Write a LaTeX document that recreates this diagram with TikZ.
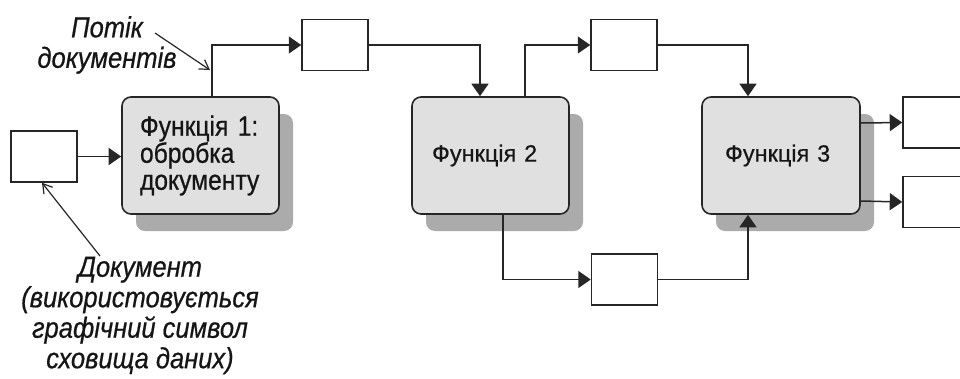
\documentclass[tikz,border=0pt]{standalone}
\usepackage{fontspec}
\setmainfont{Liberation Sans}[FakeBold=0.5]
\newfontfamily\narrowfont[FakeStretch=0.88,FakeBold=0.6]{Liberation Sans}
\usetikzlibrary{arrows.meta,shadows}
\definecolor{linecol}{HTML}{262626}
\definecolor{boxfill}{HTML}{E0E0E0}
\definecolor{shadowcol}{HTML}{ABABAB}
\definecolor{txtcol}{HTML}{151515}
\begin{document}
\begin{tikzpicture}[x=1pt,y=-1pt,
  func/.style={draw=linecol, line width=1.6pt, fill=boxfill, rounded corners=9pt,
    minimum width=157pt, minimum height=117pt, inner xsep=18pt, inner ysep=0pt,
    text=txtcol, align=left,
    drop shadow={shadow xshift=14pt, shadow yshift=-17pt, fill=shadowcol, opacity=1}},
  docbox/.style={draw=linecol, line width=1.5pt, fill=white,
    minimum width=66pt, minimum height=51pt, inner sep=0pt},
  flow/.style={draw=linecol, line width=1.5pt, -{Triangle[length=12.5pt,width=17pt]}},
  note/.style={draw=linecol, line width=1.2pt, -{Straight Barb[length=9pt,width=11pt]}},
  lbl/.style={text=txtcol, align=center, inner sep=0pt,
    font=\narrowfont\itshape\fontsize{29}{30.5}\selectfont}
]
\useasboundingbox (0,0) rectangle (960,378);

% function blocks
\node[func, text width=121pt, font=\narrowfont\fontsize{28}{27}\selectfont] (f1) at (200.5,155.5)
  {Функція 1:\\обробка\\документу};
\node[func, text width=117pt, inner xsep=20pt, font=\fontsize{23.5}{27}\selectfont] (f2) at (490.5,155.5) {Функція 2};
\node[func, text width=112pt, inner xsep=23pt, font=\fontsize{23.5}{27}\selectfont] (f3) at (781,155.5) {Функція 3};

% data stores (documents)
\node[docbox] (d0) at (44,156.5) {};
\node[docbox] (d1) at (335,45) {};
\node[docbox] (d2) at (624,45) {};
\node[docbox] (d3) at (624.5,279.5) {};
\node[docbox] (d4) at (936,122.5) {};
\node[docbox] (d5) at (936,202) {};

% flows
\draw[flow] (d0.east) -- (d0.east -| f1.west);
\draw[flow] ([xshift=11.5pt]f1.north) |- (d1.west);
\draw[flow] (d1.east) -| ([xshift=-10.5pt]f2.north);
\draw[flow] ([xshift=34.5pt]f2.north) |- (d2.west);
\draw[flow] (d2.east) -| ([xshift=-33pt]f3.north);
\draw[flow] ([xshift=12.5pt]f2.south) |- (d3.west);
\draw[flow] (d3.east) -| ([xshift=-33pt]f3.south);
\draw[flow] ([yshift=32.5pt]f3.east) -- (d4.west);
\draw[flow] ([yshift=-45.5pt]f3.east) -- (d5.west);

% annotations
\node[lbl] (lflow) at (107,45) {Потік\\документів};
\coordinate (flowtail) at (155,33);
\coordinate (flowtip) at (210,70);
\draw[note] (flowtail) -- (flowtip);

\node[lbl] (ldoc) at (140,315.5) {Документ\\(використовується\\графічний символ\\сховища даних)};
\coordinate (doctail) at (100,256);
\draw[note] (doctail) -- ([xshift=-2pt]d0.south);
\end{tikzpicture}
\end{document}
